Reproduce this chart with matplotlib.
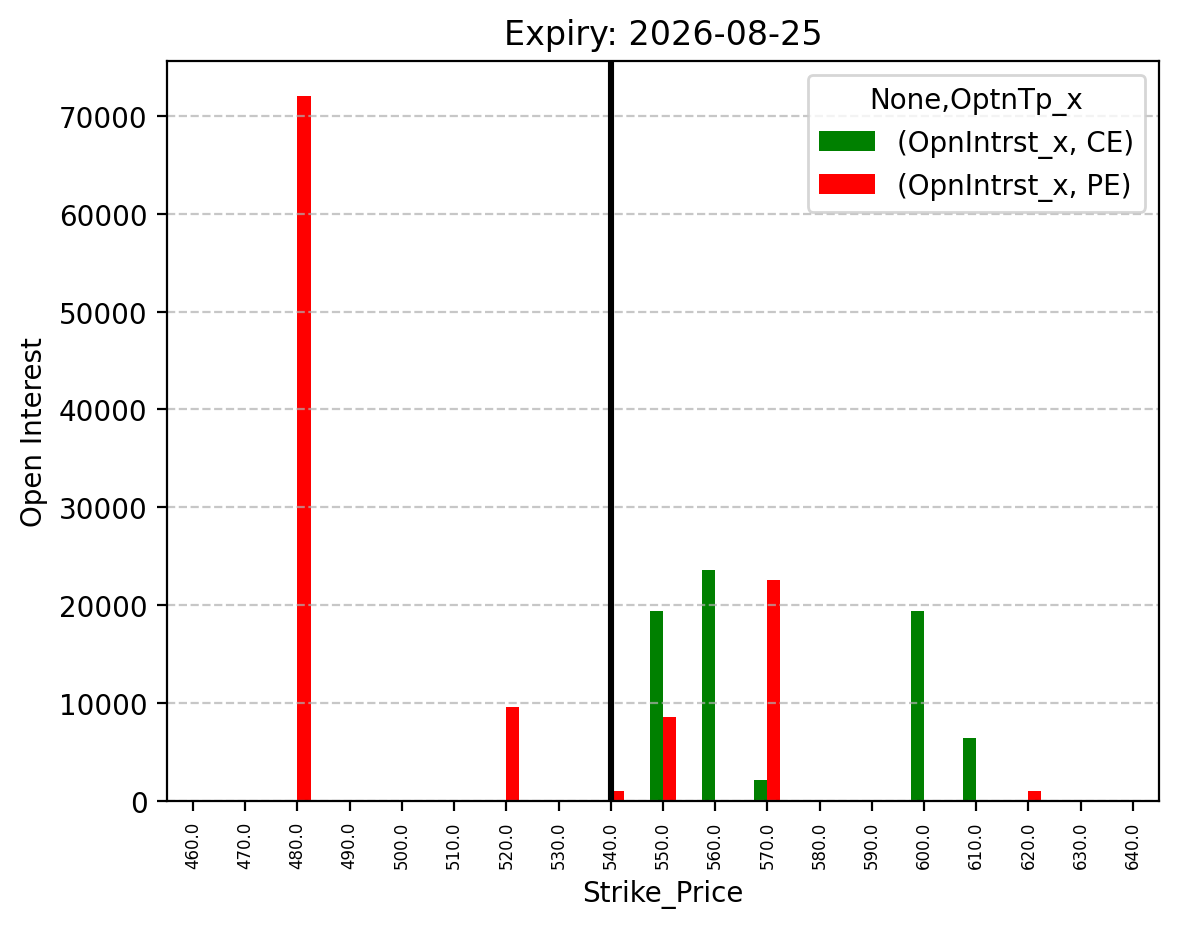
import numpy as np
import pandas as pd
import matplotlib
matplotlib.use("Agg")
import matplotlib.pyplot as plt

# strike prices and open interest per option type
strikes = [460.0, 470.0, 480.0, 490.0, 500.0, 510.0, 520.0, 530.0, 540.0, 550.0,
           560.0, 570.0, 580.0, 590.0, 600.0, 610.0, 620.0, 630.0, 640.0]
ce_oi = [0, 0, 0, 0, 0, 0, 0, 0, 0, 19400,
         23600, 2100, 0, 0, 19400, 6400, 0, 0, 0]
pe_oi = [0, 0, 72000, 0, 0, 0, 9600, 0, 1000, 8600,
         0, 22600, 0, 0, 0, 0, 1000, 0, 0]
spot_strike = 540.0
expiry = "2026-08-25"

cols = pd.MultiIndex.from_tuples([("OpnIntrst_x", "CE"), ("OpnIntrst_x", "PE")],
                                 names=[None, "OptnTp_x"])
df = pd.DataFrame(np.column_stack([ce_oi, pe_oi]), index=pd.Index(strikes, name="Strike_Price"),
                  columns=cols)

fig = plt.figure(figsize=(1179 / 200, 928 / 200), dpi=200)
ax = fig.add_subplot(111)
fig.subplots_adjust(left=0.1416, right=0.983, top=0.9332, bottom=0.1359)

df.plot(kind="bar", ax=ax, color=["green", "red"])
ax.axvline(strikes.index(spot_strike), color="black", linewidth=2.2)

ax.set_title(f"Expiry: {expiry}")
ax.set_xlabel("Strike_Price")
ax.set_ylabel("Open Interest")
ax.tick_params(axis="x", labelsize=6, rotation=90)
ax.grid(axis="y", linestyle="--", alpha=0.7)
ax.legend(title="None,OptnTp_x", loc="upper right")

fig.savefig("out.png", dpi=200)
